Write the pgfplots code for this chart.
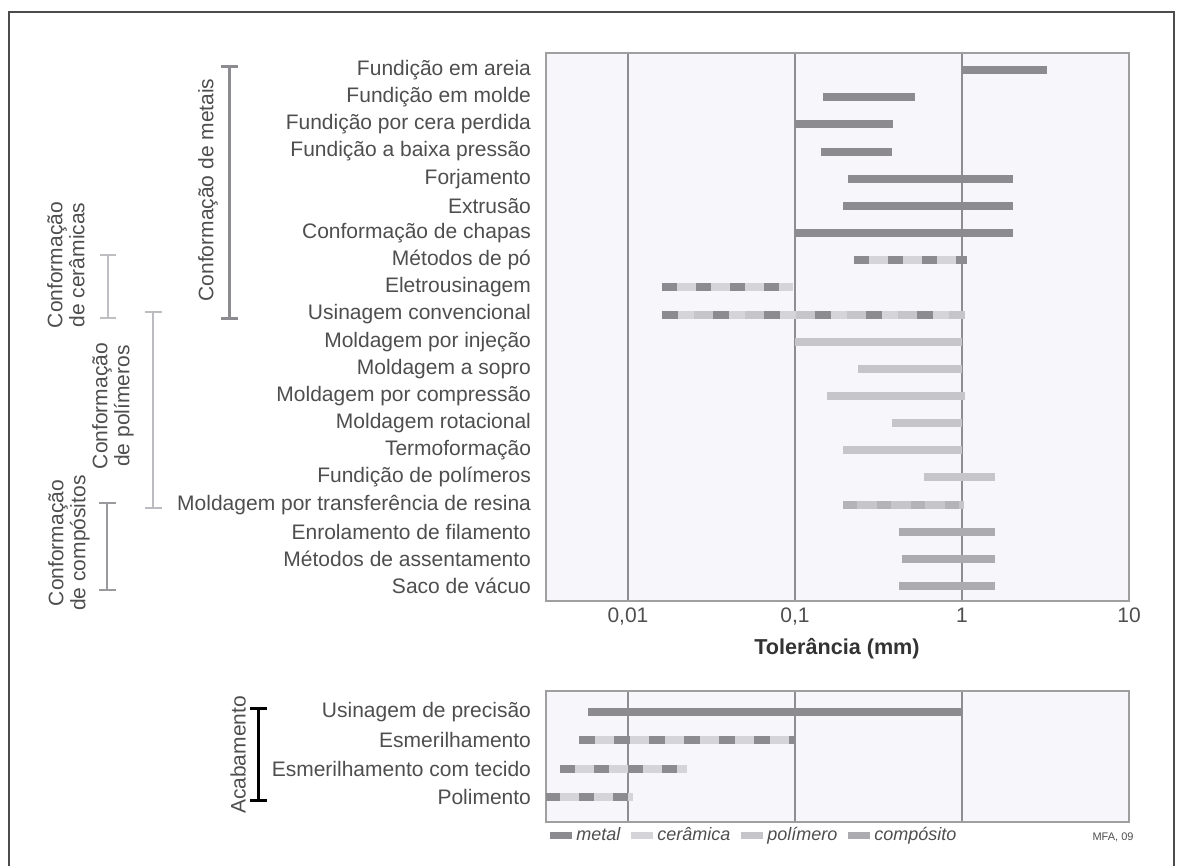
\documentclass[border=0pt]{standalone}
\usepackage{fontspec}
\setmainfont{Liberation Sans}
\usepackage{pgfplots}
\pgfplotsset{compat=1.18}
\definecolor{metalc}{HTML}{8B8B90}
\definecolor{ceramc}{HTML}{D4D4D9}
\definecolor{polyc}{HTML}{C5C5CA}
\definecolor{compc}{HTML}{ABABB0}
\definecolor{bgc}{HTML}{F7F7FB}
\definecolor{gridc}{HTML}{8E8E92}
\definecolor{txtc}{HTML}{4E4E4E}
\newcommand{\lbl}{\fontsize{10.5}{11}\selectfont}
\begin{document}
\begin{tikzpicture}
\path[use as bounding box] (0,0) rectangle (592pt,-433pt);
\draw[gray!60!black, line width=1pt] (4.5pt,-433pt) -- (4.5pt,-6pt) -- (587pt,-6pt) -- (587pt,-433pt);

\begin{axis}[
  at={(273pt,-26.5pt)}, anchor=north west, scale only axis, width=291.5pt, height=274pt,
  xmode=log, xmin=0.00323, xmax=10, y dir=reverse, ymin=0.37, ymax=20.55,
  axis background/.style={fill=bgc},
  axis line style={draw=gray!75, line width=0.8pt},
  xtick={0.01,0.1,1,10}, xminorticks=false,
  xmajorgrids, major grid style={gridc, line width=0.7pt},
  tick style={draw=none},
  ticklabel style={font=\lbl, text=txtc},
  yticklabel style={xshift=-4pt},
  xticklabels={{0,01},{0,1},1,10},
  ytick={1,...,20},
  yticklabels={Fundição em areia, Fundição em molde, Fundição por cera perdida, Fundição a baixa pressão, Forjamento, Extrusão, Conformação de chapas, Métodos de pó, Eletrousinagem, Usinagem convencional, Moldagem por injeção, Moldagem a sopro, Moldagem por compressão, Moldagem rotacional, Termoformação, Fundição de polímeros, Moldagem por transferência de resina, Enrolamento de filamento, Métodos de assentamento, Saco de vácuo},
  every axis plot/.append style={line width=4pt, line cap=butt},
]
\addplot[metalc] coordinates {(1,1) (3.25,1)};
\addplot[metalc] coordinates {(0.147,2) (0.52,2)};
\addplot[metalc] coordinates {(0.1,3) (0.385,3)};
\addplot[metalc] coordinates {(0.143,4) (0.38,4)};
\addplot[metalc] coordinates {(0.207,5) (2.02,5)};
\addplot[metalc] coordinates {(0.194,6) (2.02,6)};
\addplot[metalc] coordinates {(0.1,7) (2.02,7)};
\addplot[ceramc] coordinates {(0.226,8) (1.07,8)};
\addplot[metalc, dash pattern=on 7.5pt off 9.5pt] coordinates {(0.226,8) (1.07,8)};
\addplot[ceramc] coordinates {(0.016,9) (0.097,9)};
\addplot[metalc, dash pattern=on 7.5pt off 9.5pt] coordinates {(0.016,9) (0.097,9)};
\addplot[polyc] coordinates {(0.016,10) (1.04,10)};
\addplot[ceramc, dash pattern=on 0pt off 8pt on 8pt off 9.5pt] coordinates {(0.016,10) (1.04,10)};
\addplot[metalc, dash pattern=on 8pt off 17.5pt] coordinates {(0.016,10) (1.04,10)};
\addplot[polyc] coordinates {(0.1,11) (1,11)};
\addplot[polyc] coordinates {(0.24,12) (1,12)};
\addplot[polyc] coordinates {(0.155,13) (1.04,13)};
\addplot[polyc] coordinates {(0.38,14) (1,14)};
\addplot[polyc] coordinates {(0.194,15) (1,15)};
\addplot[polyc] coordinates {(0.59,16) (1.58,16)};
\addplot[polyc] coordinates {(0.194,17) (1.03,17)};
\addplot[compc!70!polyc, dash pattern=on 7pt off 10pt] coordinates {(0.194,17) (1.03,17)};
\addplot[compc] coordinates {(0.42,18) (1.58,18)};
\addplot[compc] coordinates {(0.44,19) (1.58,19)};
\addplot[compc] coordinates {(0.42,20) (1.58,20)};
\end{axis}

\node[text=black!80, font=\fontsize{10.8}{12}\selectfont\bfseries] at (418.5pt,-324.5pt) {Tolerância (mm)};

\begin{axis}[
  at={(273pt,-345.5pt)}, anchor=north west, scale only axis, width=291.5pt, height=65.5pt,
  xmode=log, xmin=0.00323, xmax=10, y dir=reverse, ymin=0.26, ymax=4.88,
  axis background/.style={fill=bgc},
  axis line style={draw=gray!75, line width=0.8pt},
  xtick={0.01,0.1,1,10}, xminorticks=false,
  xmajorgrids, major grid style={gridc, line width=0.7pt},
  tick style={draw=none},
  ticklabel style={font=\lbl, text=txtc},
  yticklabel style={xshift=-4pt},
  xticklabels={},
  ytick={1,...,4},
  yticklabels={Usinagem de precisão, Esmerilhamento, Esmerilhamento com tecido, Polimento},
  every axis plot/.append style={line width=4pt, line cap=butt},
  legend columns=4,
  legend style={at={(0,-0.1)}, anchor=west, draw=none, fill=none, inner xsep=0pt,
    font=\fontsize{9}{10}\selectfont\itshape, text=txtc,
    /tikz/every odd column/.append style={column sep=-1.5pt},
    /tikz/every even column/.append style={column sep=1.5pt}},
  legend image code/.code={\draw[#1, line width=3.5pt] (0pt,0pt) -- (11pt,0pt);},
]
\addplot[metalc, forget plot] coordinates {(0.0058,1) (1,1)};
\addplot[ceramc, forget plot] coordinates {(0.0051,2) (0.1,2)};
\addplot[metalc, forget plot, dash pattern=on 8pt off 9.5pt] coordinates {(0.0051,2) (0.1,2)};
\addplot[ceramc, forget plot] coordinates {(0.0039,3) (0.0225,3)};
\addplot[metalc, forget plot, dash pattern=on 7.5pt off 9.5pt] coordinates {(0.0039,3) (0.0225,3)};
\addplot[ceramc, forget plot] coordinates {(0.0032,4) (0.0107,4)};
\addplot[metalc, forget plot, dash pattern=on 7.5pt off 9.5pt] coordinates {(0.0032,4) (0.0107,4)};
\addlegendimage{metalc}\addlegendentry{metal}
\addlegendimage{ceramc}\addlegendentry{cerâmica}
\addlegendimage{polyc}\addlegendentry{polímero}
\addlegendimage{compc}\addlegendentry{compósito}
\end{axis}

\node[text=txtc, font=\fontsize{5.5}{6}\selectfont] at (556.5pt,-418.5pt) {MFA, 09};

% group brackets
\draw[metalc, line width=1.5pt] (110.5pt,-33.5pt) -- (119pt,-33.5pt) (114.5pt,-33.5pt) -- (114.5pt,-159.5pt) (110.5pt,-159.5pt) -- (119pt,-159.5pt);
\draw[ceramc!90!black, line width=1pt] (50pt,-127.5pt) -- (58pt,-127.5pt) (54pt,-127.5pt) -- (54pt,-159pt) (50pt,-159pt) -- (58pt,-159pt);
\draw[polyc!95!black, line width=1pt] (72.5pt,-156pt) -- (81pt,-156pt) (76.5pt,-156pt) -- (76.5pt,-254pt) (72.5pt,-254pt) -- (81pt,-254pt);
\draw[compc!90!black, line width=1pt] (49.5pt,-251.5pt) -- (58pt,-251.5pt) (53.5pt,-251.5pt) -- (53.5pt,-295pt) (49.5pt,-295pt) -- (58pt,-295pt);
\draw[black, line width=1.5pt] (125pt,-354pt) -- (133.5pt,-354pt) (129pt,-354pt) -- (129pt,-400pt) (125pt,-400pt) -- (133.5pt,-400pt);

\node[rotate=90, text=txtc, font=\lbl] at (104pt,-95pt) {Conformação de metais};
\node[rotate=90, text=txtc, font=\lbl, align=center, inner sep=0pt] at (33pt,-132.5pt) {Conformação\\de cerâmicas};
\node[rotate=90, text=txtc, font=\lbl, align=center, inner sep=0pt] at (56.5pt,-203pt) {Conformação\\de polímeros};
\node[rotate=90, text=txtc, font=\lbl, align=center, inner sep=0pt] at (34.5pt,-271.5pt) {Conformação\\de compósitos};
\node[rotate=90, text=txtc, font=\lbl] at (119pt,-377.5pt) {Acabamento};
\end{tikzpicture}
\end{document}
